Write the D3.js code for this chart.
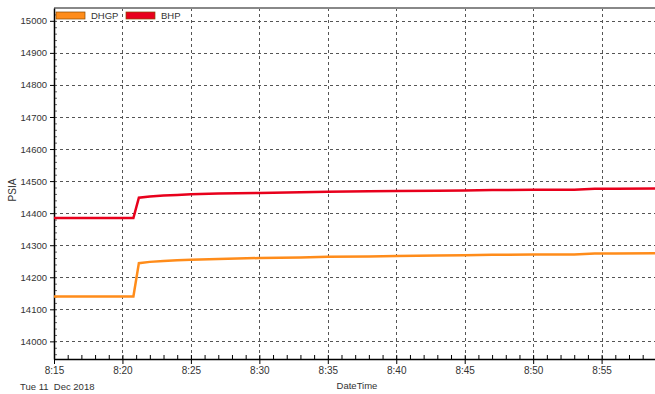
<!DOCTYPE html>
<html>
<head>
<meta charset="utf-8">
<script src="https://cdn.jsdelivr.net/npm/d3@7"></script>
<style>
  body { margin: 0; background: #fff; }
  text { font-family: "Liberation Sans", sans-serif; fill: #333; }
</style>
</head>
<body>
<div id="chart"></div>
<script>
// Time stamps (minutes after 8:00) and the two pressure series.
const times = [15, 20.8, 21.2, 22, 23, 24, 25, 27, 30, 33, 35, 38, 40, 43, 45, 47, 50, 53, 54.5, 56, 59];
const bhp = [14385, 14385, 14448, 14452, 14455, 14457, 14459, 14461, 14463, 14465, 14467, 14468, 14469, 14470, 14471, 14472, 14473, 14473, 14476, 14476, 14477];
const dhgp = [14140, 14140, 14244, 14248, 14251, 14253, 14255, 14257, 14260, 14262, 14264, 14265, 14266, 14268, 14269, 14270, 14271, 14271, 14274, 14274, 14275];
const yTicks = [14000, 14100, 14200, 14300, 14400, 14500, 14600, 14700, 14800, 14900, 15000];
const xTicks = [15, 20, 25, 30, 35, 40, 45, 50, 55];
const seriesNames = ["DHGP", "BHP"];
const seriesColors = ["#ff8c1a", "#e8001c"];

const width = 655;
const height = 394;
const margin = { top: 8, right: 0, bottom: 35, left: 54 };

const svg = d3.select("#chart")
  .append("svg")
  .attr("width", width)
  .attr("height", height);

const x = d3.scaleLinear()
  .domain([15, 58.9])
  .range([margin.left, width - margin.right]);

const y = d3.scaleLinear()
  .domain([13945, 15040])
  .range([height - margin.bottom, margin.top]);

function fmt(m) { return "8:" + (m < 10 ? "0" + m : m); }

// Grid lines.
svg.append("g")
  .selectAll("line")
  .data(yTicks)
  .enter()
  .append("line")
  .attr("x1", margin.left)
  .attr("x2", width)
  .attr("y1", function(d) { return Math.round(y(d)) + 0.5; })
  .attr("y2", function(d) { return Math.round(y(d)) + 0.5; })
  .attr("stroke", "#555")
  .attr("stroke-dasharray", "3,3");

svg.append("g")
  .selectAll("line")
  .data(xTicks.slice(1))
  .enter()
  .append("line")
  .attr("x1", function(d) { return Math.round(x(d)) + 0.5; })
  .attr("x2", function(d) { return Math.round(x(d)) + 0.5; })
  .attr("y1", margin.top)
  .attr("y2", height - margin.bottom)
  .attr("stroke", "#555")
  .attr("stroke-dasharray", "3,3");

// Top frame line.
svg.append("line")
  .attr("x1", margin.left)
  .attr("x2", width)
  .attr("y1", margin.top)
  .attr("y2", margin.top)
  .attr("stroke", "#888")
  .attr("stroke-width", 2);

// Minor ticks inside the plot.
svg.append("g")
  .attr("transform", "translate(0," + (height - margin.bottom) + ")")
  .call(d3.axisTop(x).tickValues(d3.range(16, 59, 1)).tickSize(4).tickFormat(""))
  .call(function(g) { g.select(".domain").remove(); });

svg.append("g")
  .attr("transform", "translate(" + margin.left + ",0)")
  .call(d3.axisRight(y).tickValues(d3.range(13960, 15040, 20)).tickSize(3).tickFormat(""))
  .call(function(g) { g.select(".domain").remove(); g.selectAll("line").attr("stroke", "#666"); });

// X axis.
const xAxis = svg.append("g")
  .attr("transform", "translate(0," + (height - margin.bottom) + ")")
  .call(d3.axisBottom(x).tickValues(xTicks).tickSize(5).tickSizeOuter(0).tickFormat(fmt));
xAxis.select(".domain").attr("stroke-width", 1.5);
xAxis.selectAll("text").attr("font-size", 10).attr("font-family", "Liberation Sans").attr("fill", "#333");

// Y axis.
const yAxis = svg.append("g")
  .attr("transform", "translate(" + margin.left + ",0)")
  .call(d3.axisLeft(y).tickValues(yTicks).tickSize(4).tickSizeOuter(0).tickFormat(d3.format("d")));
yAxis.select(".domain").attr("stroke-width", 1.5);
yAxis.selectAll("text").attr("font-size", 9.5).attr("font-family", "Liberation Sans").attr("fill", "#333");

// Lines.
const line = d3.line()
  .x(function(d) { return x(d[0]); })
  .y(function(d) { return y(d[1]); });

[dhgp, bhp].forEach(function(vals, i) {
  svg.append("path")
    .datum(times.map(function(t, j) { return [t, vals[j]]; }))
    .attr("fill", "none")
    .attr("stroke", seriesColors[i])
    .attr("stroke-width", 2.5)
    .attr("d", line);
});

// Legend.
const legend = svg.append("g")
  .selectAll("g")
  .data(seriesNames)
  .enter()
  .append("g")
  .attr("transform", function(d, i) { return "translate(" + (56 + i * 70) + ",12)"; });

legend.append("rect")
  .attr("width", 29)
  .attr("height", 7)
  .attr("fill", function(d, i) { return seriesColors[i]; })
  .attr("stroke", "#8a4a00")
  .attr("stroke-width", 0.7);

legend.append("text")
  .attr("x", 35)
  .attr("y", 7)
  .attr("font-size", 9.5)
  .text(function(d) { return d; });

// Axis labels.
svg.append("text")
  .attr("transform", "translate(16," + 190 + ") rotate(-90)")
  .attr("text-anchor", "middle")
  .attr("font-size", 10)
  .text("PSIA");

svg.append("text")
  .attr("x", 357)
  .attr("y", 389)
  .attr("text-anchor", "middle")
  .attr("font-size", 9.5)
  .text("DateTime");

svg.append("text")
  .attr("x", 20)
  .attr("y", 390)
  .attr("font-size", 9.5)
  .attr("xml:space", "preserve")
  .text("Tue 11  Dec 2018");
</script>
</body>
</html>
